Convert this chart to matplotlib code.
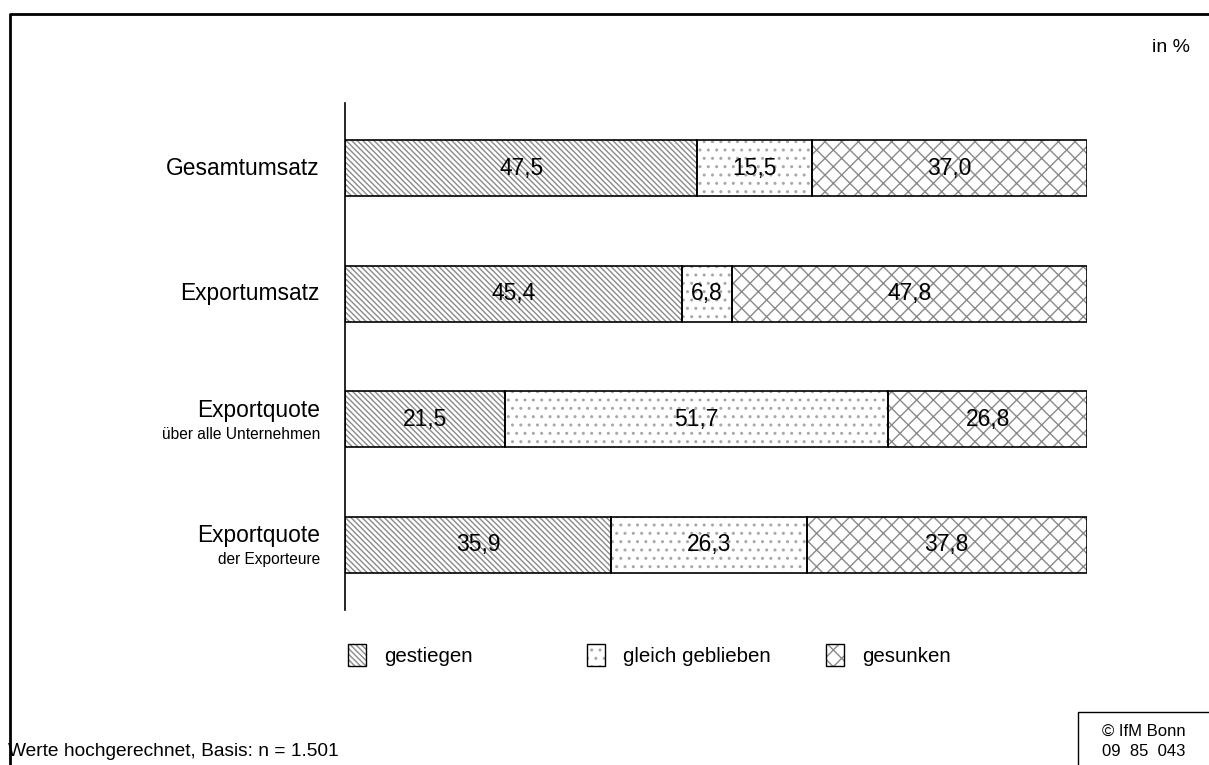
"""
Umsatz- und Exportentwicklung - gestapelte Balken (IfM Bonn)
"""

import matplotlib
matplotlib.use('Agg')
import matplotlib.pyplot as plt
from matplotlib.lines import Line2D
from matplotlib.patches import Rectangle
from matplotlib.transforms import blended_transform_factory

plt.rcParams['font.family'] = ['Liberation Sans', 'DejaVu Sans']
plt.rcParams['hatch.linewidth'] = 1.0

BS = chr(92)  # backslash

# ── Data ──────────────────────────────────────────────────────────────────────
categories = ["Gesamtumsatz", "Exportumsatz", "Exportquote", "Exportquote"]
sublabels = ["", "", "über alle Unternehmen", "der Exporteure"]
gestiegen = [47.5, 45.4, 21.5, 35.9]
gleich = [15.5, 6.8, 51.7, 26.3]
gesunken = [37.0, 47.8, 26.8, 37.8]

# name, values, hatch, hatch colour
series = [("gestiegen", gestiegen, BS * 6, "#8a8a8a"),
          ("gleich geblieben", gleich, "..", "#a8a8a8"),
          ("gesunken", gesunken, "xx", "#8a8a8a")]

W, H = 1209, 765
fig = plt.figure(figsize=(W / 100, H / 100), dpi=100)
fig.patch.set_facecolor("white")

# axes in pixel positions: x 345..1087, y 103..610
ax = fig.add_axes([345 / W, 1 - 610 / H, (1087 - 345) / W, (610 - 103) / H])
ax.set_xlim(0, 100)
ax.set_ylim(3.52, -0.52)
for s in ["top", "right", "bottom"]:
    ax.spines[s].set_visible(False)
ax.spines["left"].set_linewidth(1.2)
ax.set_xticks([])
ax.set_yticks([])

ypos = list(range(len(categories)))
bar_h = 0.45
left = [0.0] * len(categories)
for name, vals, hatch, hcol in series:
    plt.rcParams['hatch.color'] = hcol
    ax.barh(ypos, vals, left=left, height=bar_h, color="white",
            edgecolor=None, hatch=hatch, linewidth=0, zorder=2)
    ax.barh(ypos, vals, left=left, height=bar_h, fill=False,
            edgecolor="black", linewidth=1.2, zorder=3)
    for y, l, v in zip(ypos, left, vals):
        ax.text(l + v / 2, y, f"{v:.1f}".replace(".", ","),
                ha="center", va="center", fontsize=16.5, zorder=4)
    left = [a + b for a, b in zip(left, vals)]

# category labels
trans = blended_transform_factory(ax.transAxes, ax.transData)
x_lab = -25 / (1087 - 345)
for y, cat, sub in zip(ypos, categories, sublabels):
    if sub:
        ax.text(x_lab, y - 0.07, cat, transform=trans, ha="right",
                va="center", fontsize=16.4)
        ax.text(x_lab, y + 0.12, sub, transform=trans, ha="right",
                va="center", fontsize=11.2)
    else:
        ax.text(x_lab, y, cat, transform=trans, ha="right",
                va="center", fontsize=16.4)

# legend (fixed tab positions as in the original)
for i, (name, vals, hatch, hcol) in enumerate(series):
    x0 = (348 + 239 * i) / W
    y0 = 1 - 666 / H
    plt.rcParams['hatch.color'] = hcol
    fig.add_artist(Rectangle((x0, y0), 18 / W, 22 / H, transform=fig.transFigure,
                             facecolor="white", edgecolor=None, hatch=hatch,
                             linewidth=0))
    fig.add_artist(Rectangle((x0, y0), 18 / W, 22 / H, transform=fig.transFigure,
                             fill=False, edgecolor="black", linewidth=1.0))
    fig.text(x0 + 36 / W, 1 - 656 / H, name, ha="left", va="center",
             fontsize=14.8)

# frame and annotations
fig.add_artist(Line2D([10 / W, 10 / W, 1.0], [0.0, 1 - 14 / H, 1 - 14 / H],
                      transform=fig.transFigure, color="black", lw=2))
fig.add_artist(Line2D([1078 / W, 1078 / W, 1.0], [0.0, 1 - 712 / H, 1 - 712 / H],
                      transform=fig.transFigure, color="black", lw=1))
fig.text(1190 / W, 1 - 47 / H, "in %", ha="right", va="center", fontsize=14)
fig.text(8 / W, 1 - 751 / H, "Werte hochgerechnet, Basis: n = 1.501",
         ha="left", va="center", fontsize=13.8)
fig.text(1144 / W, 1 - 731 / H, "© IfM Bonn", ha="center", va="center",
         fontsize=12)
fig.text(1144 / W, 1 - 751 / H, "09  85  043", ha="center", va="center",
         fontsize=12)

fig.savefig("out.png", dpi=100, facecolor="white")
